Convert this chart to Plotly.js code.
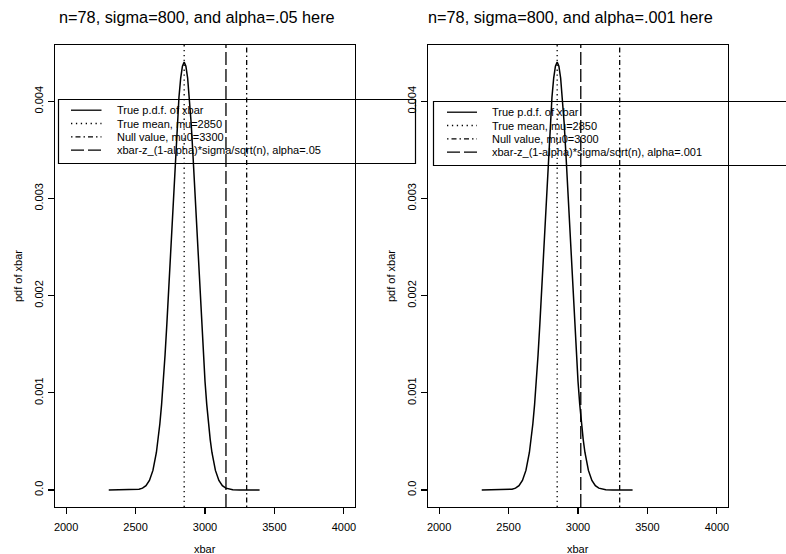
<!DOCTYPE html>
<html>
<head>
<meta charset="utf-8">
<script src="https://cdn.plot.ly/plotly-3.0.1.min.js"></script>
<style>html,body{margin:0;padding:0;background:#fff;}#chart{width:786px;height:554px;}</style>
</head>
<body>
<div id="chart"></div>
<script>
// ---- data ----
const xbarGrid = [2307, 2400, 2450, 2500, 2525, 2550, 2575, 2600, 2625, 2650, 2662.5, 2675, 2687.5, 2700, 2712.5, 2725, 2737.5, 2750, 2762.5, 2775, 2787.5, 2800, 2812.5, 2825, 2837.5, 2850,
                  2862.5, 2875, 2887.5, 2900, 2912.5, 2925, 2937.5, 2950, 2962.5, 2975, 2987.5, 3000, 3012.5, 3025, 3037.5, 3050, 3075, 3100, 3125, 3150, 3175, 3200, 3250, 3300, 3393];
const pdfVals  = [0, 0, 0.0000002, 0.0000025, 0.0000071, 0.0000183, 0.0000439, 0.0000977, 0.000201, 0.000385, 0.000517, 0.000681, 0.000881, 0.001118, 0.001391, 0.0017, 0.002037, 0.002394, 0.002762, 0.003126, 0.003471, 0.003782, 0.004042, 0.00424, 0.004362, 0.004404,
                  0.004362, 0.00424, 0.004042, 0.003782, 0.003471, 0.003126, 0.002762, 0.002394, 0.002037, 0.0017, 0.001391, 0.001118, 0.000881, 0.000681, 0.000517, 0.000385, 0.000201, 0.0000977, 0.0000439, 0.0000183, 0.0000071, 0.0000025, 0.0000002, 0, 0];
const trueMean = 2850;
const nullMu0 = 3300;
const critValues = [3151, 3020];          // xbar - z_(1-alpha)*sigma/sqrt(n) for each panel
const panelTitles = ["n=78, sigma=800, and alpha=.05 here", "n=78, sigma=800, and alpha=.001 here"];
const alphaLabels = [".05", ".001"];
const legendLabels = ["True p.d.f. of xbar", "True mean, mu=2850", "Null value, mu0=3300"];
const xTickVals = [2000, 2500, 3000, 3500, 4000];
const yTickVals = [0, 0.001, 0.002, 0.003, 0.004];
const yTickText = ["0.0", "0.001", "0.002", "0.003", "0.004"];
const xLabel = "xbar";
const yLabel = "pdf of xbar";

// ---- layout helpers ----
const W = 786, H = 554;
const px = v => v / W;
const py = v => 1 - v / H;
const FONT = "Liberation Sans, Arial, Helvetica, sans-serif";
const DOTTED = "1.3px,3.6px";
const DOTDASH = "1.5px,3px,5px,3px";
const DASHED = "13px,4px";

const panels = [
  {xa: "x", ya: "y", left: 55, right: 355, titleX: 197, ylabX: 18, legL: 58.5, legR: 415.5, legT: 99.5, legB: 163.5, lineL: 71, lineR: 101.5, textL: 115},
  {xa: "x2", ya: "y2", left: 428, right: 728, titleX: 570, ylabX: 391, legL: 433.5, legR: 820, legT: 101.5, legB: 165.5, lineL: 447, lineR: 477, textL: 489.5}
];
const plotTop = 45, plotBot = 507;

const traces = panels.map(p => ({
  x: xbarGrid, y: pdfVals, xaxis: p.xa, yaxis: p.ya, type: "scatter", mode: "lines",
  line: {color: "black", width: 1.5}, showlegend: false, hoverinfo: "skip"
}));

const shapes = [];
const annotations = [];
panels.forEach((p, i) => {
  const vlines = [[trueMean, DOTTED], [nullMu0, DOTDASH], [critValues[i], DASHED]];
  vlines.forEach(([v, d]) => shapes.push({type: "line", xref: p.xa, yref: p.ya + " domain", x0: v, x1: v, y0: 0, y1: 1,
    line: {color: "black", width: 1.3, dash: d}}));
  // legend box
  shapes.push({type: "rect", xref: "paper", yref: "paper", x0: px(p.legL), x1: px(p.legR), y0: py(p.legB), y1: py(p.legT),
    line: {color: "black", width: 1.2}, fillcolor: "rgba(0,0,0,0)"});
  const labels = legendLabels.concat(["xbar-z_(1-alpha)*sigma/sqrt(n), alpha=" + alphaLabels[i]]);
  const dashes = ["solid", DOTTED, DOTDASH, DASHED];
  labels.forEach((lab, k) => {
    const yy = p.legT + 10.7 + k * 13.3;
    shapes.push({type: "line", xref: "paper", yref: "paper", x0: px(p.lineL), x1: px(p.lineR), y0: py(yy), y1: py(yy),
      line: {color: "black", width: 1.3, dash: dashes[k]}});
    annotations.push({xref: "paper", yref: "paper", x: px(p.textL), y: py(yy), xanchor: "left", yanchor: "middle",
      text: lab, showarrow: false, font: {family: FONT, size: 11, color: "black"}});
  });
  annotations.push({xref: "paper", yref: "paper", x: px(p.titleX), y: py(17), xanchor: "center", yanchor: "middle",
    text: panelTitles[i], showarrow: false, font: {family: FONT, size: 16.3, color: "black"}});
  annotations.push({xref: "paper", yref: "paper", x: px((p.left + p.right) / 2), y: py(549), xanchor: "center", yanchor: "middle",
    text: xLabel, showarrow: false, font: {family: FONT, size: 11, color: "black"}});
  annotations.push({xref: "paper", yref: "paper", x: px(p.ylabX), y: py((plotTop + plotBot) / 2), xanchor: "center", yanchor: "middle",
    text: yLabel, textangle: -90, showarrow: false, font: {family: FONT, size: 11, color: "black"}});
});

const xCommon = {range: [1920, 4080], tickvals: xTickVals, ticks: "outside", ticklen: 6, tickwidth: 1.2, tickcolor: "black",
  showline: true, mirror: true, linecolor: "black", linewidth: 1.2, showgrid: false, zeroline: false,
  tickfont: {family: FONT, size: 11, color: "black"}, ticklabelstandoff: 4, fixedrange: true};
const yCommon = {range: [-0.000176, 0.00458], tickvals: yTickVals, ticktext: yTickText, tickangle: -90, ticks: "outside", ticklen: 6, tickwidth: 1.2, tickcolor: "black",
  showline: true, mirror: true, linecolor: "black", linewidth: 1.2, showgrid: false, zeroline: false,
  tickfont: {family: FONT, size: 11, color: "black"}, domain: [py(plotBot), py(plotTop)], fixedrange: true};

const layout = {
  width: W, height: H, margin: {l: 0, r: 0, t: 0, b: 0}, paper_bgcolor: "white", plot_bgcolor: "white",
  showlegend: false,
  xaxis: Object.assign({}, xCommon, {domain: [px(panels[0].left), px(panels[0].right)], anchor: "y"}),
  yaxis: Object.assign({}, yCommon, {anchor: "x"}),
  xaxis2: Object.assign({}, xCommon, {domain: [px(panels[1].left), px(panels[1].right)], anchor: "y2"}),
  yaxis2: Object.assign({}, yCommon, {anchor: "x2"}),
  shapes: shapes, annotations: annotations
};

Plotly.newPlot("chart", traces, layout, {staticPlot: true, displayModeBar: false});
</script>
</body>
</html>
